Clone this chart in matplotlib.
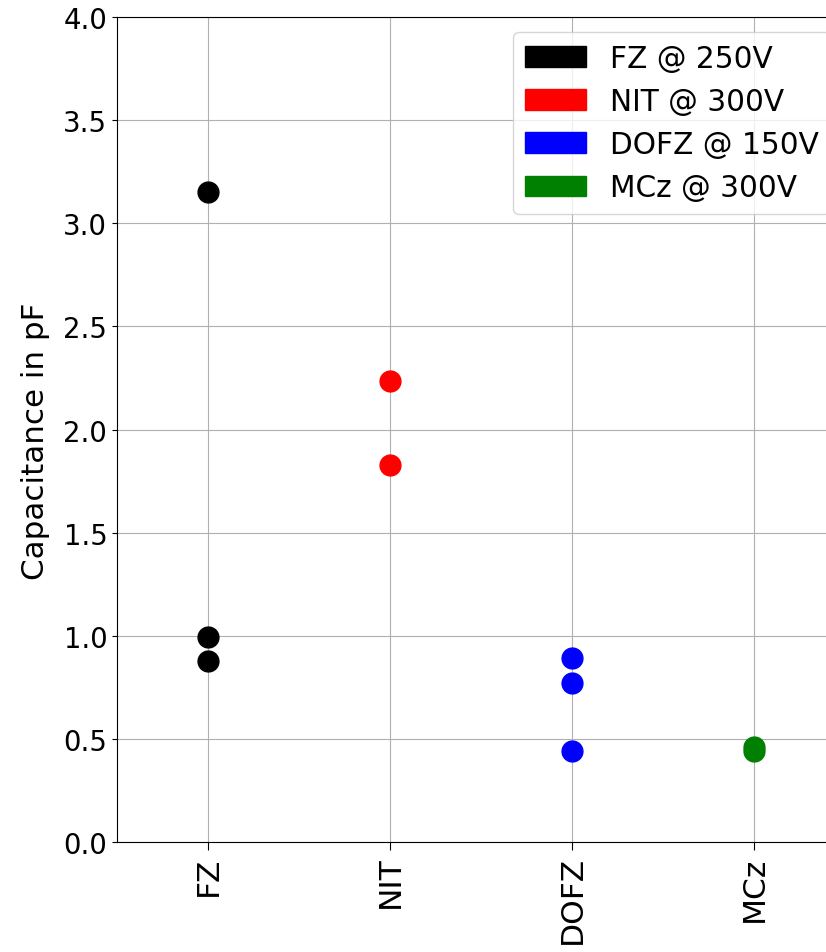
import matplotlib
matplotlib.use("Agg")
import matplotlib.pyplot as plt
from matplotlib.patches import Patch

categories = ["FZ", "NIT", "DOFZ", "MCz"]
fz_vals = [3.15, 0.995, 0.88]
nit_vals = [2.235, 1.83]
dofz_vals = [0.89, 0.77, 0.44]
mcz_vals = [0.46, 0.44]
series_vals = [fz_vals, nit_vals, dofz_vals, mcz_vals]
colors = ["black", "red", "blue", "green"]
legend_labels = ["FZ @ 250V", "NIT @ 300V", "DOFZ @ 150V", "MCz @ 300V"]

plt.rcParams['font.size'] = 20
fig = plt.figure(figsize=(8.26, 9.53), dpi=100)
ax = fig.add_axes([117/826, 110/953, 728/826, 825/953])

for i, (vals, c) in enumerate(zip(series_vals, colors)):
    ax.plot([categories[i]] * len(vals), vals, 'o', color=c, markersize=15, linestyle='none')

ax.set_xlim(-0.5, 3.5)
ax.set_ylim(0, 4.0)
ax.set_yticks([0, 0.5, 1.0, 1.5, 2.0, 2.5, 3.0, 3.5, 4.0])
ax.set_xticks(range(len(categories)))
ax.set_xticklabels(categories, rotation=90)
ax.tick_params(axis='x', labelsize=22.5, length=6, pad=3.5)
ax.tick_params(axis='y', labelsize=19.8)
ax.set_ylabel("Capacitance in pF", fontsize=22.3)
ax.yaxis.set_label_coords(-0.092, 0.487)
ax.grid(True)
ax.set_axisbelow(True)

handles = [Patch(color=c, label=l) for c, l in zip(colors, legend_labels)]
ax.legend(handles=handles, loc="upper right", fontsize=21.3, labelspacing=0.48,
          handlelength=2.05)

fig.savefig("out.png", dpi=100)
